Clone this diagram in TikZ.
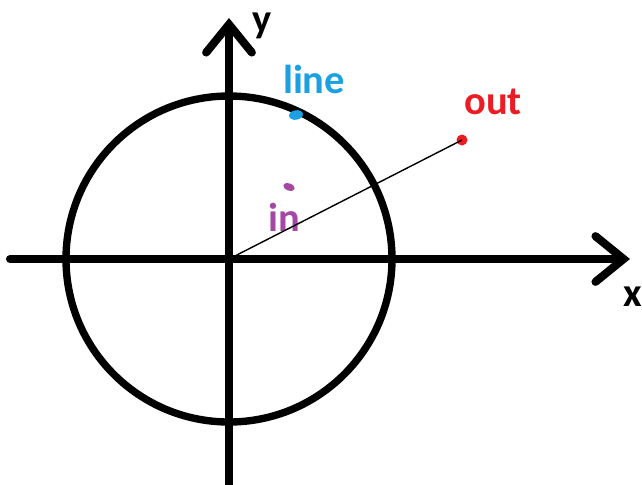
\documentclass[tikz,border=0pt]{standalone}
\usepackage{fontspec}
\setmainfont{Carlito}
\usetikzlibrary{arrows.meta,positioning,calc,shapes.geometric}
\usepackage{xcolor}
\definecolor{pnInk}{HTML}{000000}
\definecolor{pnBlue}{HTML}{1BA1E2}
\definecolor{pnRed}{HTML}{ED1C24}
\definecolor{pnPurple}{HTML}{A349A4}
\tikzset{
  axs/.style={draw=pnInk, line width=4.6pt, line cap=round, -{Straight Barb[length=16pt,width=26pt,line cap=round]}},
  rim/.style={draw=pnInk, line width=4.2pt},
  ray/.style={draw=pnInk, line width=0.8pt},
  lbl/.style={font=\fontsize{23}{26}\selectfont\bfseries, inner sep=0pt},
  dotp/.style={ellipse, fill=#1, inner sep=0pt, minimum width=0.28cm, minimum height=0.19cm},
}
\begin{document}
\begin{tikzpicture}[x=0.02cm, y=-0.02cm]
  \useasboundingbox (0,0) rectangle (642,484);
  \coordinate (o) at (229,259);
  \coordinate (xl) at (10,259);
  \coordinate (xr) at (630,259);
  \coordinate (yb) at (229,492);
  \coordinate (yt) at (229,18);
  \draw[rim] (o) circle[radius=163];
  \draw[axs] (xl) -- (xr);
  \draw[axs] (yb) -- (yt);
  \node[lbl, text=pnInk] (ylbl) at (262,26) {y};
  \node[lbl, text=pnInk] (xlbl) at (633,297) {x};
  \node[dotp=pnBlue, rotate=10] (lpt) at (296,115) {};
  \node[dotp=pnRed, minimum width=0.22cm, minimum height=0.22cm] (opt) at (462,140) {};
  \node[dotp=pnPurple, rotate=-20, minimum width=0.24cm, minimum height=0.14cm] (ipt) at (289,187) {};
  \node[lbl, text=pnBlue] (llbl) at (314,79) {line};
  \node[lbl, text=pnRed] (olbl) at (493,102) {out};
  \node[lbl, text=pnPurple] (ilbl) at (284,217) {in};
  \draw[ray] (o) -- (opt.center);
\end{tikzpicture}
\end{document}
